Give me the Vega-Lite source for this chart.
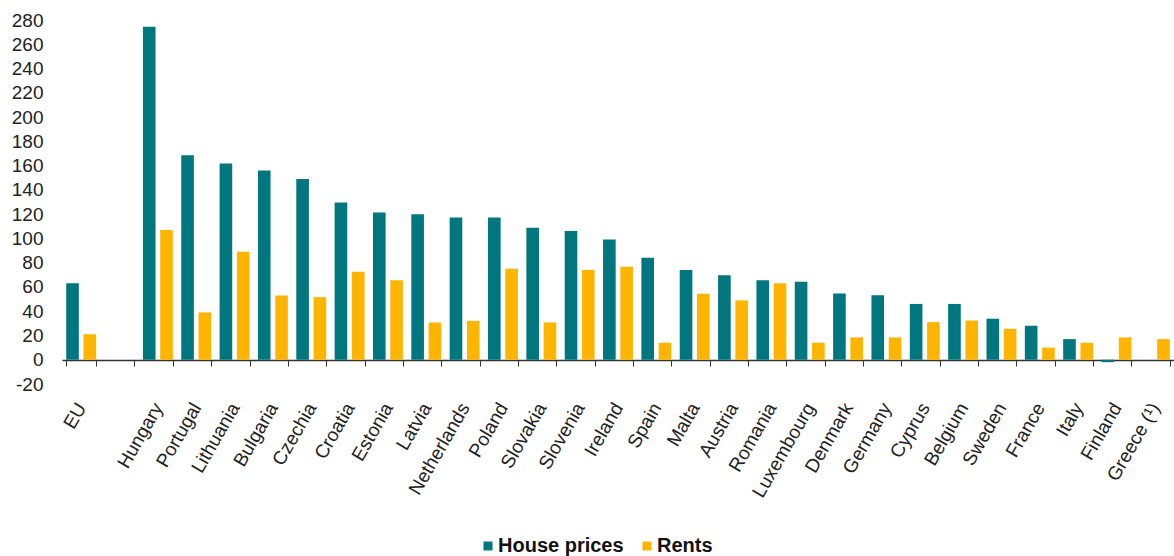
{
  "$schema": "https://vega.github.io/schema/vega-lite/v6.json",
  "width": 1112,
  "height": 364,
  "autosize": {"type": "none"},
  "padding": {"left": 62, "top": 20, "right": 0, "bottom": 172},
  "background": "white",
  "data": {"values": [
    {"country": "EU", "series": "House prices", "value": 63},
    {"country": "EU", "series": "Rents", "value": 21},
    {"country": "Hungary", "series": "House prices", "value": 274.5},
    {"country": "Hungary", "series": "Rents", "value": 107},
    {"country": "Portugal", "series": "House prices", "value": 168.5},
    {"country": "Portugal", "series": "Rents", "value": 39},
    {"country": "Lithuania", "series": "House prices", "value": 161.7},
    {"country": "Lithuania", "series": "Rents", "value": 89},
    {"country": "Bulgaria", "series": "House prices", "value": 156},
    {"country": "Bulgaria", "series": "Rents", "value": 53},
    {"country": "Czechia", "series": "House prices", "value": 149},
    {"country": "Czechia", "series": "Rents", "value": 51.6},
    {"country": "Croatia", "series": "House prices", "value": 129.6},
    {"country": "Croatia", "series": "Rents", "value": 72.5},
    {"country": "Estonia", "series": "House prices", "value": 121.4},
    {"country": "Estonia", "series": "Rents", "value": 65.5},
    {"country": "Latvia", "series": "House prices", "value": 120},
    {"country": "Latvia", "series": "Rents", "value": 30.7},
    {"country": "Netherlands", "series": "House prices", "value": 117.2},
    {"country": "Netherlands", "series": "Rents", "value": 32},
    {"country": "Poland", "series": "House prices", "value": 117.2},
    {"country": "Poland", "series": "Rents", "value": 75},
    {"country": "Slovakia", "series": "House prices", "value": 108.7},
    {"country": "Slovakia", "series": "Rents", "value": 30.7},
    {"country": "Slovenia", "series": "House prices", "value": 106},
    {"country": "Slovenia", "series": "Rents", "value": 73.9},
    {"country": "Ireland", "series": "House prices", "value": 99},
    {"country": "Ireland", "series": "Rents", "value": 76.6},
    {"country": "Spain", "series": "House prices", "value": 84},
    {"country": "Spain", "series": "Rents", "value": 14},
    {"country": "Malta", "series": "House prices", "value": 73.9},
    {"country": "Malta", "series": "Rents", "value": 54.4},
    {"country": "Austria", "series": "House prices", "value": 69.7},
    {"country": "Austria", "series": "Rents", "value": 48.9},
    {"country": "Romania", "series": "House prices", "value": 65.6},
    {"country": "Romania", "series": "Rents", "value": 63},
    {"country": "Luxembourg", "series": "House prices", "value": 64.3},
    {"country": "Luxembourg", "series": "Rents", "value": 14},
    {"country": "Denmark", "series": "House prices", "value": 54.6},
    {"country": "Denmark", "series": "Rents", "value": 18.4},
    {"country": "Germany", "series": "House prices", "value": 53.2},
    {"country": "Germany", "series": "Rents", "value": 18.4},
    {"country": "Cyprus", "series": "House prices", "value": 46},
    {"country": "Cyprus", "series": "Rents", "value": 31},
    {"country": "Belgium", "series": "House prices", "value": 46},
    {"country": "Belgium", "series": "Rents", "value": 32.3},
    {"country": "Sweden", "series": "House prices", "value": 33.8},
    {"country": "Sweden", "series": "Rents", "value": 25.5},
    {"country": "France", "series": "House prices", "value": 28},
    {"country": "France", "series": "Rents", "value": 10},
    {"country": "Italy", "series": "House prices", "value": 17},
    {"country": "Italy", "series": "Rents", "value": 14},
    {"country": "Finland", "series": "House prices", "value": -2},
    {"country": "Finland", "series": "Rents", "value": 18.4},
    {"country": "Greece (¹)", "series": "Rents", "value": 17}
  ]},
  "mark": {"type": "bar"},
  "encoding": {
    "x": {
      "field": "country",
      "type": "nominal",
      "sort": null,
      "scale": {
        "domain": ["EU", " ", "Hungary", "Portugal", "Lithuania", "Bulgaria", "Czechia", "Croatia", "Estonia", "Latvia", "Netherlands", "Poland", "Slovakia", "Slovenia", "Ireland", "Spain", "Malta", "Austria", "Romania", "Luxembourg", "Denmark", "Germany", "Cyprus", "Belgium", "Sweden", "France", "Italy", "Finland", "Greece (¹)"],
        "paddingInner": 0.22,
        "paddingOuter": 0.11
      },
      "axis": {
        "title": null,
        "labelAngle": -60,
        "labelFont": "Liberation Sans",
        "labelFontSize": 19,
        "labelColor": "#222222",
        "offset": -24,
        "tickBand": "extent",
        "tickSize": 6,
        "tickColor": "#333333",
        "domainColor": "#333333",
        "domainWidth": 1.5,
        "labelPadding": 38,
        "grid": false
      }
    },
    "xOffset": {
      "field": "series",
      "type": "nominal",
      "scale": {"domain": ["House prices", "Rents"], "paddingInner": 0.27}
    },
    "y": {
      "field": "value",
      "type": "quantitative",
      "stack": null,
      "scale": {"domain": [-20, 280], "nice": false, "zero": false},
      "axis": {
        "title": null,
        "values": [-20, 0, 20, 40, 60, 80, 100, 120, 140, 160, 180, 200, 220, 240, 260, 280],
        "labelExpr": "'' + datum.value",
        "domain": false,
        "ticks": false,
        "grid": false,
        "labelFont": "Liberation Sans",
        "labelFontSize": 19,
        "labelColor": "#222222",
        "labelPadding": 19
      }
    },
    "y2": {"datum": 0},
    "color": {
      "field": "series",
      "type": "nominal",
      "scale": {"domain": ["House prices", "Rents"], "range": ["#00767F", "#FFB400"]},
      "legend": {
        "title": null,
        "orient": "none",
        "legendX": 416,
        "legendY": 516,
        "direction": "horizontal",
        "symbolType": "square",
        "symbolSize": 81,
        "symbolStrokeWidth": 0,
        "labelFont": "Liberation Sans",
        "labelFontSize": 20,
        "labelFontWeight": "bold",
        "labelColor": "#111111",
        "labelOffset": 0,
        "columnPadding": 13
      }
    }
  },
  "config": {"view": {"stroke": null}}
}
